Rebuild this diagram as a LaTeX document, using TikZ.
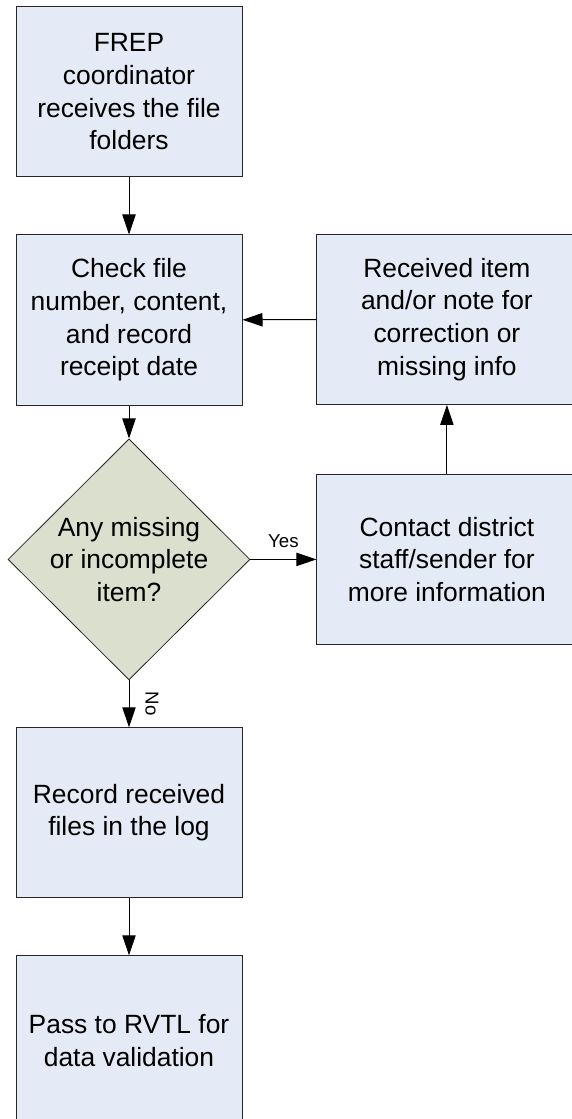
\documentclass[tikz,border=0pt]{standalone}
\usepackage{fontspec}
\setmainfont{Liberation Sans}
\usetikzlibrary{arrows.meta, positioning, shapes.geometric}
\definecolor{boxfill}{RGB}{229,235,246}
\definecolor{decfill}{RGB}{219,223,205}

\begin{document}
\begin{tikzpicture}[
      stepnode/.style={rectangle, draw=black!85, fill=boxfill, line width=0.75pt, minimum width=169.5pt, minimum height=127.5pt, inner sep=0pt, align=center, font=\fontsize{19.8pt}{24.5pt}\selectfont},
      widenode/.style={stepnode, minimum width=195pt},
      decisionnode/.style={diamond, draw=black!85, fill=decfill, line width=0.6pt, minimum width=181.5pt, minimum height=180.75pt, inner sep=0pt},
      flowarrow/.style={-{Triangle[length=15pt, width=10pt]}, line width=0.75pt},
      answer/.style={font=\fontsize{14pt}{16pt}\selectfont},
      ]
      \useasboundingbox (0,0) rectangle (428.25pt,-839.25pt);
      %Nodes
      \node[stepnode]      (receive)                           at (96.75pt,-69pt) {FREP\\coordinator\\receives the file\\folders};
      \node[stepnode]      (check)      [below=42.75pt of receive] {Check file\\number, content,\\and record\\receipt date};
      \node[decisionnode]  (decide)     [below=24.75pt of check]   {};
      \node[align=center, font=\fontsize{19.8pt}{24.5pt}\selectfont] (decidetext) at (decide) {Any missing\\or incomplete\\item?};
      \node[stepnode]      (record)     [below=35.25pt of decide]  {Record received\\files in the log};
      \node[stepnode]      (pass)       [below=42.75pt of record]  {Pass to RVTL for\\data validation};
      \node[widenode]      (contact)    [right=49.5pt of decide]   {Contact district\\staff/sender for\\more information};
      \node[widenode]      (received)   [above=51.75pt of contact] {Received item\\and/or note for\\correction or\\missing info};

      %Lines
      \draw[flowarrow] (receive) -- (check);
      \draw[flowarrow] (check) -- (decide);
      \draw[flowarrow] (decide) -- (contact)
      node [answer, midway, above=5pt] (yes) {Yes};
      \draw[flowarrow] (decide) -- (record)
      node [answer, midway, rotate=-90, anchor=south, inner sep=12pt] (no) {No};
      \draw[flowarrow] (contact) -- (received);
      \draw[flowarrow] (received) -- (check);
      \draw[flowarrow] (record) -- (pass);
    \end{tikzpicture}
\end{document}
